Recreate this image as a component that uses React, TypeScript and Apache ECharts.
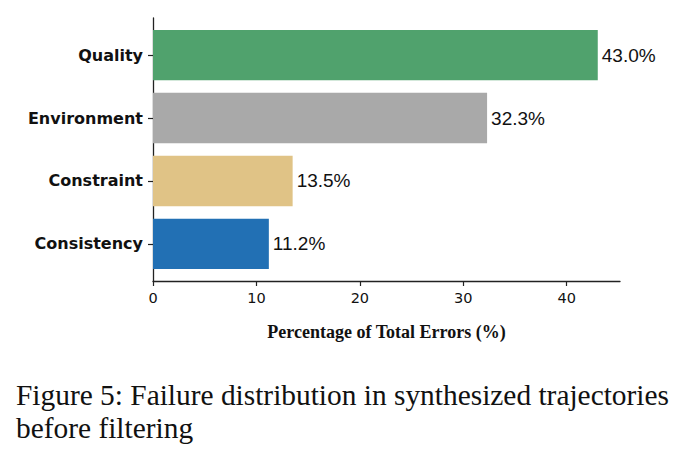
import React, { useEffect, useRef } from "react";
import * as echarts from "echarts";

// Error categories, listed top to bottom
const categories: string[] = ["Quality", "Environment", "Constraint", "Consistency"];
// Share of total errors (%)
const shares: number[] = [43.0, 32.3, 13.5, 11.2];
const barColors: string[] = ["#50a26d", "#a9a9a9", "#e0c386", "#2270b4"];
const xTicks: number[] = [0, 10, 20, 30, 40];
const captionLines: string[] = [
  "Figure 5: Failure distribution in synthesized trajectories",
  "before filtering",
];

export default function App() {
  const ref = useRef<HTMLDivElement>(null);

  useEffect(() => {
    if (!ref.current) return;
    const chart = echarts.init(ref.current, undefined, { renderer: "svg" });
    const idx = categories.map((_, i) => i);
    chart.setOption({
      animation: false,
      backgroundColor: "#ffffff",
      grid: { left: 153, top: 18, right: 66, bottom: 182, containLabel: false },
      xAxis: {
        type: "value",
        min: 0,
        max: 45.15,
        interval: 10,
        name: "Percentage of Total Errors (%)",
        nameLocation: "middle",
        nameGap: 42,
        nameTextStyle: {
          fontFamily: "'Liberation Serif', serif",
          fontWeight: "bold",
          fontSize: 18,
          color: "#111",
        },
        axisLine: { show: true, onZero: false, lineStyle: { color: "#222", width: 1.3 } },
        axisTick: { show: true, length: 5, lineStyle: { color: "#222", width: 1.2 }, customValues: xTicks },
        axisLabel: {
          customValues: xTicks,
          fontFamily: "'DejaVu Sans', sans-serif",
          fontSize: 14.5,
          color: "#111",
          margin: 9,
        },
        splitLine: { show: false },
      },
      yAxis: {
        type: "value",
        min: -0.59,
        max: 3.59,
        inverse: true,
        axisLine: { show: true, onZero: false, lineStyle: { color: "#222", width: 1.3 } },
        axisTick: { show: true, length: 5, lineStyle: { color: "#222", width: 1.2 }, customValues: idx },
        axisLabel: {
          customValues: idx,
          formatter: (v: number) => categories[Math.round(v)] ?? "",
          fontFamily: "'Comic Sans MS', 'DejaVu Sans', sans-serif",
          fontWeight: "bold",
          fontSize: 16,
          color: "#111",
          margin: 10,
        },
        splitLine: { show: false },
      },
      series: [
        {
          type: "custom",
          data: shares.map((v, i) => [v, i]),
          encode: { x: 0, y: 1 },
          renderItem: (params: any, api: any) => {
            const v = api.value(0);
            const i = api.value(1);
            const start = api.coord([0, i]);
            const end = api.coord([v, i]);
            const h = api.size([0, 0.8])[1];
            return {
              type: "group",
              children: [
                {
                  type: "rect",
                  shape: { x: start[0], y: start[1] - h / 2, width: end[0] - start[0], height: h },
                  style: { fill: barColors[params.dataIndex] },
                },
                {
                  type: "text",
                  x: end[0] + 4,
                  y: end[1],
                  style: {
                    text: v.toFixed(1) + "%",
                    fontFamily: "Arial, 'Liberation Sans', sans-serif",
                    fontSize: 19,
                    fill: "#111",
                    verticalAlign: "middle",
                    align: "left",
                  },
                },
              ],
            };
          },
        },
      ],
      graphic: captionLines.map((line, i) => ({
        type: "text",
        x: 16,
        y: 395 + i * 33,
        style: {
          text: line,
          fontFamily: "'Times New Roman', 'Liberation Serif', serif",
          fontSize: 29.4,
          fill: "#111",
          verticalAlign: "middle",
        },
      })),
    });
    return () => chart.dispose();
  }, []);

  return (
    <div
      ref={ref}
      style={{ position: "fixed", left: 0, top: 0, width: 686, height: 463 }}
    />
  );
}
